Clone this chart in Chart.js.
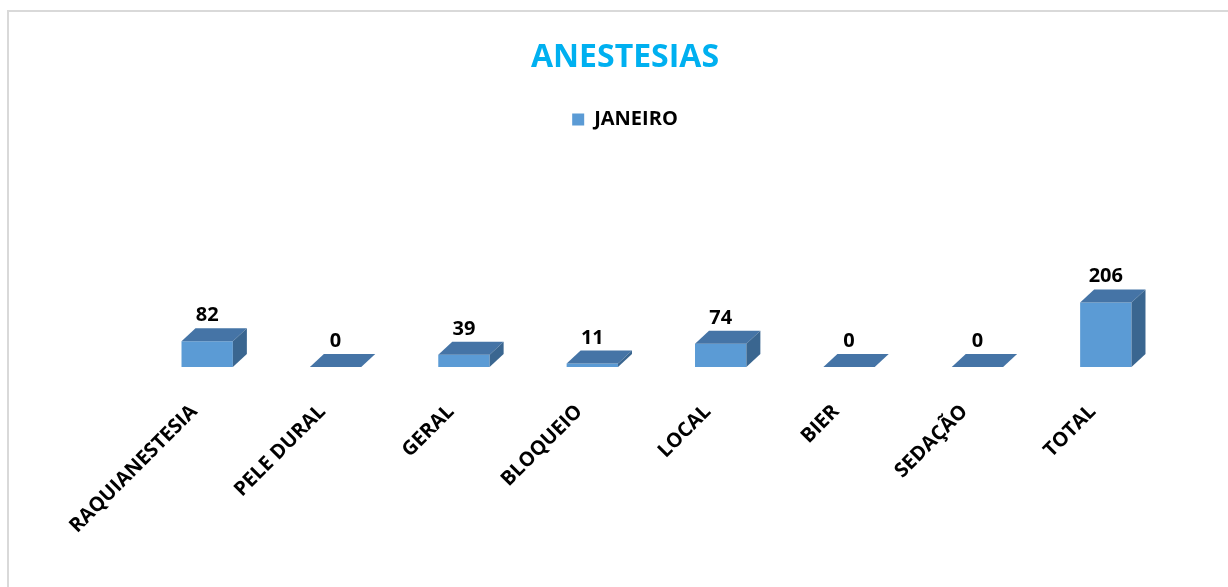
<!DOCTYPE html>
<html>
<head>
<meta charset="utf-8">
<style>
  html, body { margin: 0; padding: 0; background: #fff; overflow: hidden; }
  #frame { position: absolute; left: 7px; top: 10px; width: 1230px; height: 590px;
           border-top: 2px solid #d9d9d9; border-left: 2px solid #d9d9d9; }
  #wrap { position: absolute; left: 0; top: 0; width: 1228px; height: 587px; }
</style>
</head>
<body>
<div id="frame"></div>
<div id="wrap"><canvas id="myChart" width="1228" height="587"></canvas></div>
<script src="https://cdn.jsdelivr.net/npm/chart.js@4/dist/chart.umd.min.js"></script>
<script>
    // valores
    var categories = ['RAQUIANESTESIA', 'PELE DURAL', 'GERAL', 'BLOQUEIO', 'LOCAL', 'BIER', 'SEDAÇÃO', 'TOTAL'];
    var janeiro = [82, 0, 39, 11, 74, 0, 0, 206];
    var seriesName = 'JANEIRO';

    var FONT = '"Open Sans", "Noto Sans", sans-serif';
    var DX = 14, DY = -13;

    // faces de cima e do lado para imitar a barra 3D do Excel
    var bar3d = {
        id: 'bar3d',
        afterDatasetsDraw: function (chart) {
            var ctx = chart.ctx;
            chart.getDatasetMeta(0).data.forEach(function (bar, i) {
                var l = bar.x - bar.width / 2, r = bar.x + bar.width / 2;
                var top = bar.y, base = bar.base;
                ctx.save();
                ctx.fillStyle = '#4574A6';
                ctx.beginPath();
                ctx.moveTo(l, top);
                ctx.lineTo(l + DX, top + DY);
                ctx.lineTo(r + DX, top + DY);
                ctx.lineTo(r, top);
                ctx.closePath();
                ctx.fill();
                if (base - top > 0.5) {
                    ctx.fillStyle = '#3A6690';
                    ctx.beginPath();
                    ctx.moveTo(r, top);
                    ctx.lineTo(r + DX, top + DY);
                    ctx.lineTo(r + DX, base + DY);
                    ctx.lineTo(r, base);
                    ctx.closePath();
                    ctx.fill();
                }
                // rótulo de valor
                ctx.fillStyle = '#000';
                ctx.font = 'bold 20px ' + FONT;
                ctx.textAlign = 'center';
                ctx.textBaseline = 'alphabetic';
                ctx.fillText(String(janeiro[i]), bar.x, top + DY - 7);
                ctx.restore();
            });
        }
    };

    var ctx = document.getElementById('myChart').getContext('2d');
    var myChart = new Chart(ctx, {
        type: 'bar',
        data: {
            labels: categories,
            datasets: [{
                label: seriesName,
                data: janeiro,
                backgroundColor: '#5B9BD5',
                borderWidth: 0,
                barPercentage: 0.4,
                categoryPercentage: 1
            }]
        },
        plugins: [bar3d],
        options: {
            responsive: false,
            animation: false,
            devicePixelRatio: 1,
            layout: { padding: { left: 22, right: 0, top: 0, bottom: 0 } },
            plugins: {
                title: {
                    display: true,
                    text: 'ANESTESIAS',
                    color: '#00B0F0',
                    font: { family: FONT, size: 32, weight: 'bold', lineHeight: 1.2 },
                    padding: { top: 39, bottom: 22 }
                },
                legend: {
                    display: true,
                    labels: {
                        boxWidth: 12,
                        boxHeight: 12,
                        padding: 10,
                        color: '#000',
                        font: { family: FONT, size: 20, weight: 'bold' }
                    }
                },
                tooltip: { enabled: false }
            },
            scales: {
                x: {
                    type: 'category',
                    offset: true,
                    grid: { display: false, drawTicks: false, tickLength: 0 },
                    border: { display: false },
                    ticks: {
                        autoSkip: false,
                        minRotation: 45,
                        maxRotation: 45,
                        padding: 33,
                        labelOffset: -13,
                        color: '#000',
                        font: { family: FONT, size: 20, weight: 'bold' }
                    },
                    afterFit: function (s) { s.height = 220; }
                },
                y: {
                    position: 'left',
                    min: 0,
                    max: 726,
                    grid: { display: false, drawTicks: false },
                    border: { display: false },
                    ticks: { display: false },
                    afterFit: function (s) { s.width = 121; }
                },
                yRight: {
                    type: 'linear',
                    position: 'right',
                    min: 0,
                    max: 1,
                    grid: { display: false, drawTicks: false },
                    border: { display: false },
                    ticks: { display: false },
                    afterFit: function (s) { s.width = 58; }
                }
            }
        }
    });
</script>
</body>
</html>
